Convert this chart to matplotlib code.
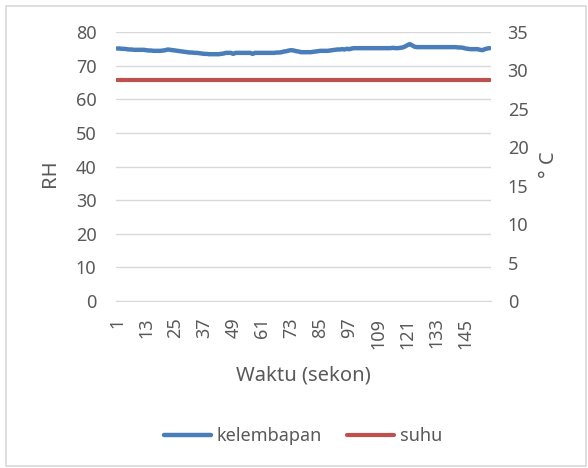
import matplotlib.pyplot as plt
from matplotlib.patches import Rectangle

# data
waktu = list(range(1, 156))
kelembapan = [
    75.1, 75.1, 75.0, 75.0, 74.9,
    74.8, 74.8, 74.7, 74.7, 74.7, 74.7, 74.7,
    74.6, 74.5, 74.5, 74.4, 74.4, 74.4, 74.4, 74.5,
    74.6, 74.8, 74.7, 74.6,
    74.5, 74.4, 74.3, 74.2, 74.1, 74.0,
    73.9, 73.9, 73.8, 73.8, 73.7, 73.6, 73.5, 73.5,
    73.4, 73.4, 73.4, 73.4, 73.4, 73.5, 73.6,
    73.8, 73.8, 73.8, 73.5, 73.8, 73.8, 73.8,
    73.8, 73.8, 73.8, 73.8, 73.5, 73.8, 73.8, 73.8,
    73.8, 73.8, 73.8, 73.8, 73.8, 73.8, 73.9, 73.9, 74.0, 74.2,
    74.3, 74.5, 74.6, 74.5, 74.3, 74.2, 74.0, 74.0,
    74.0, 74.0, 74.0, 74.1, 74.2, 74.3, 74.4,
    74.4, 74.4, 74.4, 74.5, 74.6, 74.7, 74.8,
    74.8, 74.9, 74.8, 75.0, 74.9, 75.1, 75.2, 75.2,
    75.2, 75.2, 75.2, 75.2, 75.2, 75.2, 75.2, 75.2, 75.2,
    75.2, 75.2, 75.2, 75.2, 75.2, 75.3, 75.2, 75.2, 75.3,
    75.4, 75.7, 76.1, 76.4, 76.0, 75.6, 75.5,
    75.5, 75.5, 75.5, 75.5, 75.5, 75.5, 75.5, 75.5, 75.5,
    75.5, 75.5, 75.5, 75.5, 75.5, 75.5, 75.5, 75.4, 75.4,
    75.3, 75.1, 75.0, 74.9, 74.9, 74.9, 74.9, 74.7, 74.6, 74.9, 75.1, 75.2,
]
suhu = [28.7] * len(waktu)
x_ticks = list(range(1, 156, 12))
rh_ticks = list(range(0, 81, 10))
c_ticks = list(range(0, 36, 5))

plt.rcParams['font.family'] = ['Noto Sans', 'DejaVu Sans']
grey = '#595959'
blue = '#4A7EBB'
red = '#C0504D'

fig = plt.figure(figsize=(5.88, 4.68), dpi=100)
fig.patches.append(Rectangle((6 / 588, 2 / 468), 580 / 588, 460 / 468,
                             transform=fig.transFigure, fill=False,
                             edgecolor='#D9D9D9', linewidth=1.2))

ax = fig.add_axes([0.197, 0.3568, 0.638, 0.5748])
ax2 = ax.twinx()

l1, = ax.plot(waktu, kelembapan, color=blue, linewidth=3.2, solid_capstyle='round')
l2, = ax2.plot(waktu, suhu, color=red, linewidth=3, solid_capstyle='round')

ax.set_xlim(0.5, 155.5)
ax.set_ylim(0, 80)
ax2.set_ylim(0, 35)
ax.set_yticks(rh_ticks)
ax2.set_yticks(c_ticks)
ax.set_xticks(x_ticks)
ax.set_xticklabels([str(t) for t in x_ticks], rotation=90)

ax.grid(axis='y', color='#D9D9D9', linewidth=1)
ax.set_axisbelow(True)
for a in (ax, ax2):
    for s in ('top', 'left', 'right'):
        a.spines[s].set_visible(False)
    a.spines['bottom'].set_color('#D9D9D9')
ax2.spines['bottom'].set_visible(False)

ax.tick_params(axis='y', length=0, pad=14, labelsize=13, labelcolor=grey)
ax2.tick_params(axis='y', length=0, pad=12, labelsize=13, labelcolor=grey)
ax.tick_params(axis='x', length=0, pad=12, labelsize=13, labelcolor=grey)

fig.text(303 / 588, 1 - 375 / 468, 'Waktu (sekon)', ha='center', va='center',
         fontsize=14.5, color=grey)
fig.text(50 / 588, 1 - 173 / 468, 'RH', ha='center', va='center',
         rotation=90, fontsize=14.5, color=grey)
fig.text(549 / 588, 1 - 165 / 468, '° C', ha='center', va='center',
         rotation=90, fontsize=14.5, color=grey)

fig.legend([l1, l2], ['kelembapan', 'suhu'], loc='center',
           bbox_to_anchor=(303 / 588, 1 - 436 / 468), ncol=2, frameon=False,
           fontsize=13, labelcolor=grey, handlelength=2.6, handletextpad=0.3,
           columnspacing=1.4)

fig.savefig('out.png', dpi=100)
